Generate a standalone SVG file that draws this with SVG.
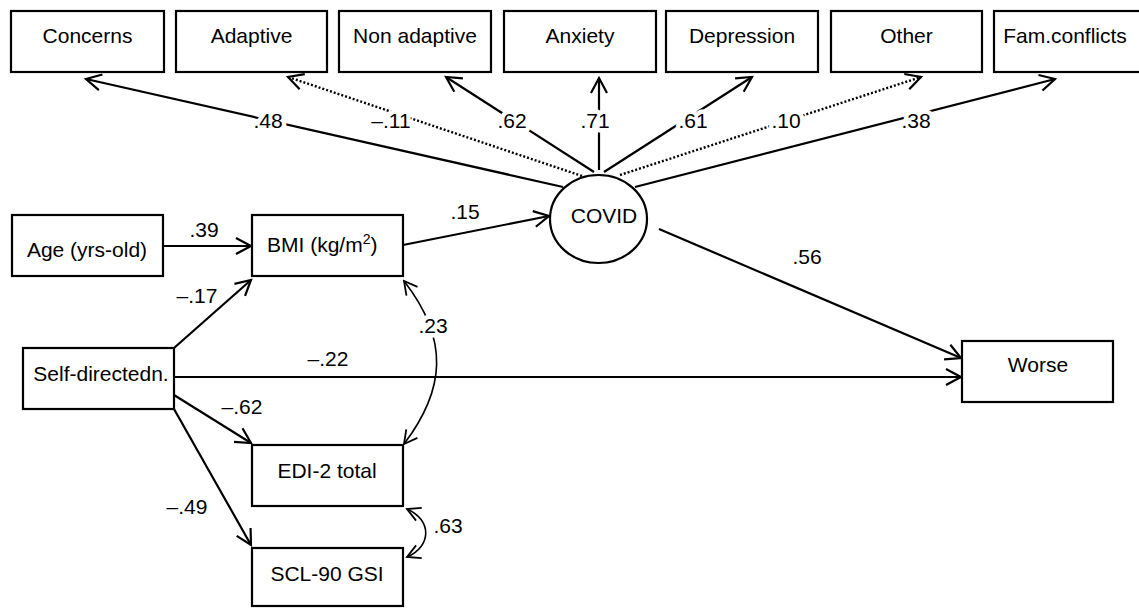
<svg xmlns="http://www.w3.org/2000/svg" width="1139" height="608" viewBox="0 0 1139 608">
<style>
.box{fill:#fff;stroke:#000;stroke-width:2.2}
.t{font-family:"Liberation Sans",Arial,sans-serif;font-size:21px;fill:#000;text-anchor:middle}
.lbl{font-family:"Liberation Sans",Arial,sans-serif;font-size:21px;fill:#000;text-anchor:middle;stroke:#fff;stroke-width:9;stroke-linejoin:round;paint-order:stroke}
.ln{fill:none;stroke:#000;stroke-width:2.2}
.dot{fill:none;stroke:#000;stroke-width:2.4;stroke-dasharray:2 2}
.cv{fill:none;stroke:#000;stroke-width:1.6}
</style>
<defs>
<marker id="arr" viewBox="0 0 18 18" refX="16" refY="9" markerWidth="18" markerHeight="18" markerUnits="userSpaceOnUse" orient="auto" overflow="visible">
<path d="M1,1 L16,9 L1,17" fill="none" stroke="#000" stroke-width="2.2"/>
</marker>
<marker id="arrs" viewBox="0 0 16 16" refX="14" refY="8" markerWidth="16" markerHeight="16" markerUnits="userSpaceOnUse" orient="auto-start-reverse" overflow="visible">
<path d="M1,1 L14,8 L1,15" fill="none" stroke="#000" stroke-width="1.8"/>
</marker>
</defs>
<g id="connectors">
<path class="ln" d="M563,187 L86,79" marker-end="url(#arr)"/>
<path class="dot" d="M582,176 L288,77" marker-end="url(#arr)"/>
<path class="ln" d="M594,172 L446,77" marker-end="url(#arr)"/>
<path class="ln" d="M599,170 L599,78" marker-end="url(#arr)"/>
<path class="ln" d="M604,172 L752,77" marker-end="url(#arr)"/>
<path class="dot" d="M620,175 L921,77" marker-end="url(#arr)"/>
<path class="ln" d="M635,187 L1055,79" marker-end="url(#arr)"/>
<path class="ln" d="M163,246 L251,246" marker-end="url(#arr)"/>
<path class="ln" d="M403,245 L549,216" marker-end="url(#arr)"/>
<path class="ln" d="M174,348 L251,280" marker-end="url(#arr)"/>
<path class="ln" d="M174,377 L961,377" marker-end="url(#arr)"/>
<path class="ln" d="M174,395 L251,443" marker-end="url(#arr)"/>
<path class="ln" d="M174,409 L251,545" marker-end="url(#arr)"/>
<path class="ln" d="M659,229 L961,358" marker-end="url(#arr)"/>
<path class="cv" d="M404,281 C450,340 445,390 404,444" marker-start="url(#arrs)" marker-end="url(#arrs)"/>
<path class="cv" d="M407,509 C432,520 432,546 407,557" marker-start="url(#arrs)" marker-end="url(#arrs)"/>
<text class="lbl" x="268" y="128">.48</text>
<text class="lbl" x="391" y="128">–.11</text>
<text class="lbl" x="512" y="128">.62</text>
<text class="lbl" x="595" y="128">.71</text>
<text class="lbl" x="693" y="128">.61</text>
<text class="lbl" x="786" y="128">.10</text>
<text class="lbl" x="916" y="128">.38</text>
<text class="lbl" x="204" y="237">.39</text>
<text class="lbl" x="465" y="219">.15</text>
<text class="lbl" x="197" y="303">–.17</text>
<text class="lbl" x="328" y="366">–.22</text>
<text class="lbl" x="242" y="414">–.62</text>
<text class="lbl" x="187" y="514">–.49</text>
<text class="lbl" x="807" y="264">.56</text>
<text class="lbl" x="433" y="333">.23</text>
<text class="lbl" x="448" y="533">.63</text>
</g>
<g id="n-concerns"><rect class="box" x="11" y="11" width="153" height="61"/><text class="t" x="87.5" y="43">Concerns</text></g>
<g id="n-adaptive"><rect class="box" x="176" y="11" width="151" height="61"/><text class="t" x="251.5" y="43">Adaptive</text></g>
<g id="n-nonadaptive"><rect class="box" x="339" y="11" width="152" height="61"/><text class="t" x="415" y="43">Non adaptive</text></g>
<g id="n-anxiety"><rect class="box" x="504" y="11" width="152" height="61"/><text class="t" x="580" y="43">Anxiety</text></g>
<g id="n-depression"><rect class="box" x="666" y="11" width="152" height="61"/><text class="t" x="742" y="43">Depression</text></g>
<g id="n-other"><rect class="box" x="831" y="11" width="151" height="61"/><text class="t" x="906.5" y="43">Other</text></g>
<g id="n-famconflicts"><rect class="box" x="994" y="11" width="152" height="61"/><text class="t" x="1065" y="43">Fam.conflicts</text></g>
<g id="n-covid"><ellipse class="box" cx="598.5" cy="219" rx="48.5" ry="44"/><text class="t" x="604" y="223">COVID</text></g>
<g id="n-age"><rect class="box" x="12" y="215" width="151" height="61"/><text class="t" x="87" y="257">Age (yrs-old)</text></g>
<g id="n-bmi"><rect class="box" x="252" y="215" width="151" height="61"/><text class="t" x="267" y="252" style="text-anchor:start">BMI (kg/m<tspan font-size="14" dy="-8">2</tspan><tspan dy="8">)</tspan></text></g>
<g id="n-self"><rect class="box" x="23" y="348" width="151" height="61"/><text class="t" x="101" y="381">Self-directedn.</text></g>
<g id="n-edi"><rect class="box" x="252" y="445" width="151" height="61"/><text class="t" x="327" y="478">EDI-2 total</text></g>
<g id="n-scl"><rect class="box" x="252" y="548" width="151" height="58"/><text class="t" x="327" y="581">SCL-90 GSI</text></g>
<g id="n-worse"><rect class="box" x="962" y="341" width="151" height="61"/><text class="t" x="1038" y="372">Worse</text></g>
</svg>
